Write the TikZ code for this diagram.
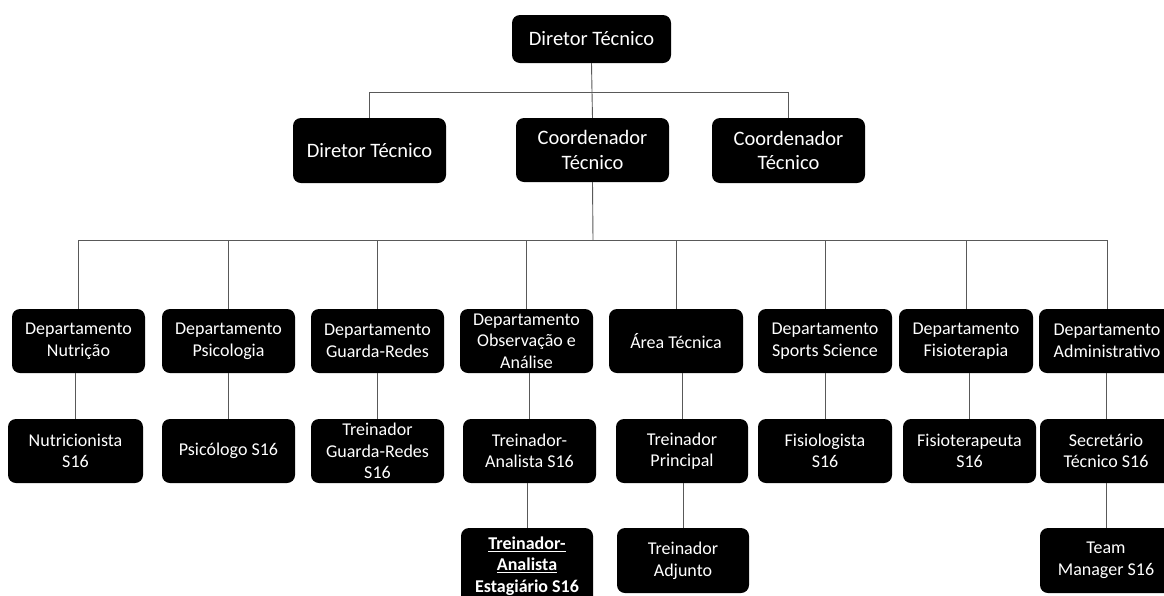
\documentclass[tikz,border=0pt]{standalone}
\usepackage{fontspec}
\setmainfont{Carlito}
\begin{document}
\begin{tikzpicture}[x=1pt,y=-1pt,
  box/.style={rectangle, rounded corners=8pt, fill=black, text=white, align=center, inner sep=0pt},
  big/.style={box, font=\fontsize{20.5}{24.5}\selectfont},
  small/.style={box, font=\fontsize{18}{21.6}\selectfont},
  link/.style={draw=black!65, line width=0.9pt}]
\clip (0,0) rectangle (1164,595);
\fill[white] (0,0) rectangle (1164,595);
% level 1 and 2
\node[big, minimum width=159pt, minimum height=48pt] (top) at (591.5,39) {Diretor Técnico};
\node[big, minimum width=153pt, minimum height=65pt] (dt) at (369.5,150.5) {Diretor Técnico};
\node[big, minimum width=153pt, minimum height=64pt] (ct) at (592.5,150) {Coordenador\\Técnico};
\node[big, minimum width=153pt, minimum height=65pt] (ctr) at (788.5,150.5) {Coordenador\\Técnico};
% level 3
\node[small, minimum width=133pt, minimum height=64pt] (nut) at (78.5,341) {Departamento\\Nutrição};
\node[small, minimum width=133pt, minimum height=64pt] (psi) at (228.5,341) {Departamento\\Psicologia};
\node[small, minimum width=133pt, minimum height=64pt] (gr) at (377.5,341) {Departamento\\Guarda-Redes};
\node[small, minimum width=133pt, minimum height=64pt] (obs) at (526.5,341) {Departamento\\Observação e\\Análise};
\node[small, minimum width=134pt, minimum height=64pt] (at) at (676,341) {Área Técnica};
\node[small, minimum width=134pt, minimum height=64pt] (ss) at (825,341) {Departamento\\Sports Science};
\node[small, minimum width=134pt, minimum height=64pt] (fis) at (966,341) {Departamento\\Fisioterapia};
\node[small, minimum width=136pt, minimum height=64pt] (adm) at (1107,341) {Departamento\\Administrativo};
% level 4
\node[small, minimum width=135pt, minimum height=64pt] (nut2) at (75.5,451) {Nutricionista\\S16};
\node[small, minimum width=133pt, minimum height=64pt] (psi2) at (228.5,451) {Psicólogo S16};
\node[small, minimum width=133pt, minimum height=64pt] (gr2) at (377.5,451) {Treinador\\Guarda-Redes\\S16};
\node[small, minimum width=133pt, minimum height=64pt] (obs2) at (529.5,451) {Treinador-\\Analista S16};
\node[small, minimum width=132pt, minimum height=64pt] (at2) at (682,451) {Treinador\\Principal};
\node[small, minimum width=134pt, minimum height=64pt] (ss2) at (825,451) {Fisiologista\\S16};
\node[small, minimum width=133pt, minimum height=64pt] (fis2) at (969.5,451) {Fisioterapeuta\\S16};
\node[small, minimum width=132pt, minimum height=64pt] (adm2) at (1106,451) {Secretário\\Técnico S16};
% level 5
\node[small, minimum width=132pt, minimum height=78pt] (obs3) at (527,567) {\textbf{\underline{Treinador-}}\\\textbf{\underline{Analista}}\\\textbf{\underline{Estagiário S16}}};
\node[small, minimum width=132pt, minimum height=65pt] (at3) at (683,560.5) {Treinador\\Adjunto};
\node[small, minimum width=132pt, minimum height=65pt] (adm3) at (1106,560.5) {Team\\Manager S16};
% connectors
\coordinate (j1) at (592,92);
\coordinate (j2) at (593,240);
\draw[link] (top.south) -- (j1) -- (ct.north);
\draw[link] (dt.north) -- (dt.north |- j1) -- (ctr.north |- j1) -- (ctr.north);
\draw[link] (ct.south) -- (j2);
\draw[link] (nut.north) -- (nut.north |- j2) -- (adm.north |- j2) -- (adm.north);
\foreach \n in {psi,gr,obs,at,ss,fis}{\draw[link] (\n.north) -- (\n.north |- j2);}
\foreach \a/\b in {nut/nut2,psi/psi2,gr/gr2,obs/obs2,at/at2,ss/ss2,fis/fis2,adm/adm2,obs2/obs3,at2/at3,adm2/adm3}{
  \draw[link] (\b.north |- \a.south) -- (\b.north);}
\end{tikzpicture}
\end{document}
